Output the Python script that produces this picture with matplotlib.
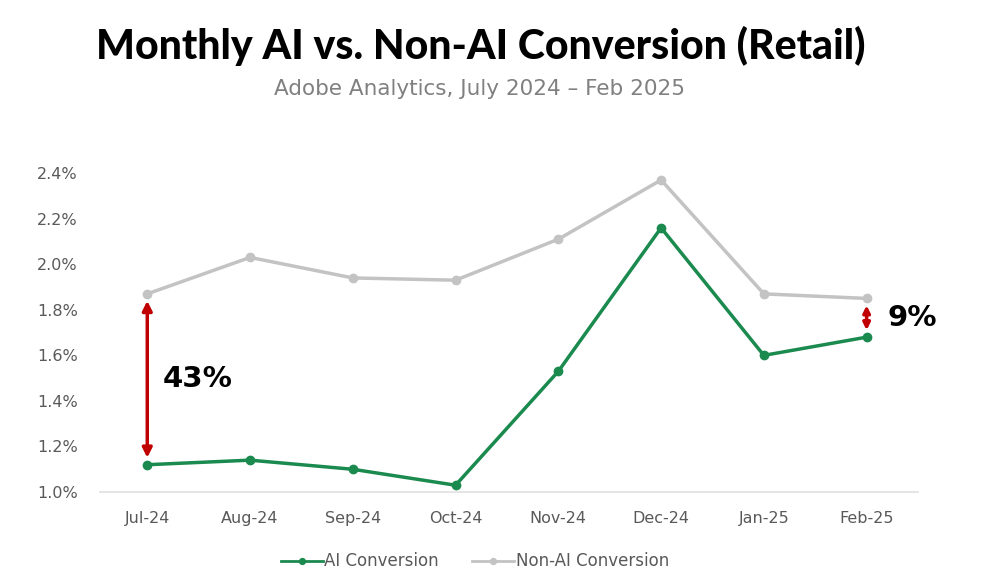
import numpy as np
import matplotlib.pyplot as plt
from matplotlib.ticker import FuncFormatter

months = ["Jul-24", "Aug-24", "Sep-24", "Oct-24", "Nov-24", "Dec-24", "Jan-25", "Feb-25"]
ai_conv = [1.12, 1.14, 1.10, 1.03, 1.53, 2.16, 1.60, 1.68]
non_ai_conv = [1.87, 2.03, 1.94, 1.93, 2.11, 2.37, 1.87, 1.85]
gap_labels = ["43%", "9%"]

green = "#1b8a4f"
grey = "#c3c3c3"
red = "#c00000"

fig = plt.figure(figsize=(10, 5.83), dpi=100)
ax = fig.add_axes([0.10, 0.156, 0.818, 0.547])

x = np.arange(len(months))
ax.plot(x, ai_conv, color=green, lw=2.5, marker="o", ms=6, label="AI Conversion", zorder=3, clip_on=False)
ax.plot(x, non_ai_conv, color=grey, lw=2.5, marker="o", ms=6, label="Non-AI Conversion", zorder=2, clip_on=False)

# gap arrows between the two series
for i, lab, dx, ms in [(0, gap_labels[0], 0.15, 14), (len(months) - 1, gap_labels[1], 0.2, 10)]:
    ax.annotate("", xy=(x[i], non_ai_conv[i]), xytext=(x[i], ai_conv[i]),
                arrowprops=dict(arrowstyle="<|-|>", color=red, lw=2.5,
                                mutation_scale=ms, shrinkA=5, shrinkB=5))
    ax.text(x[i] + dx, (ai_conv[i] + non_ai_conv[i]) / 2, lab, fontsize=21,
            fontweight="bold", color="black", va="center", ha="left")

ax.set_xlim(-0.46, 7.5)
ax.set_ylim(1.0, 2.4)
ax.set_yticks(np.arange(1.0, 2.41, 0.2))
ax.yaxis.set_major_formatter(FuncFormatter(lambda v, p: f"{v:.1f}%"))
ax.set_xticks(x)
ax.set_xticklabels(months)
ax.tick_params(axis="both", length=0, labelsize=11.5, colors="#595959")
ax.tick_params(axis="x", pad=14)
ax.tick_params(axis="y", pad=16)
for s in ["top", "right", "left"]:
    ax.spines[s].set_visible(False)
ax.spines["bottom"].set_color("#e0e0e0")
ax.spines["bottom"].set_linewidth(1.2)

fig.text(0.481, 0.922, "Monthly AI vs. Non-AI Conversion (Retail)", ha="center", va="center",
         fontsize=29.5, fontweight="black", family=["Lato", "DejaVu Sans"])
fig.text(0.48, 0.847, "Adobe Analytics, July 2024 \u2013 Feb 2025", ha="center", va="center",
         fontsize=15.5, color="#808080")

leg = fig.legend(loc="center", bbox_to_anchor=(0.475, 0.037), ncol=2, frameon=False,
                 fontsize=12, handlelength=2.5, columnspacing=2, handletextpad=0.1,
                 markerscale=0.7)
for t in leg.get_texts():
    t.set_color("#595959")
for h in leg.get_lines():
    h.set_linewidth(2)

fig.savefig("out.png", dpi=100, facecolor="white")
